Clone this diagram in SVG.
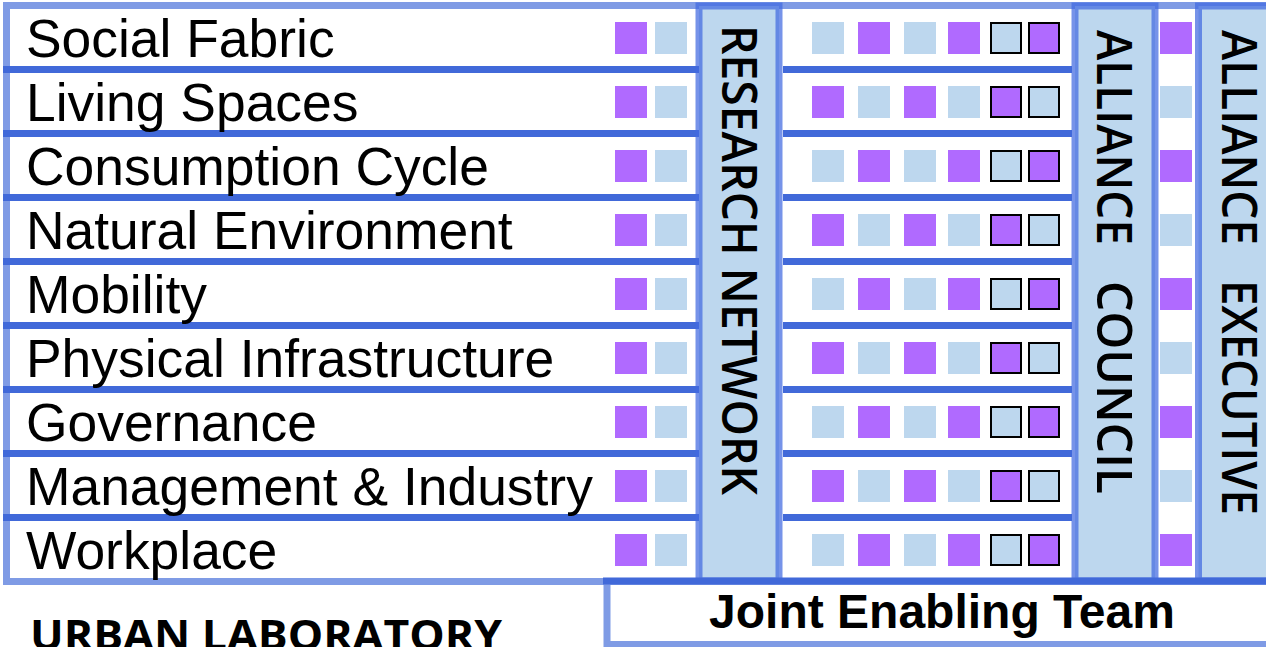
<svg xmlns="http://www.w3.org/2000/svg" width="1266" height="647" viewBox="0 0 1266 647">
<style>
.lbl{font-family:"Liberation Sans",Arial,sans-serif;font-size:53.4px;fill:#000}
.vt{font-family:"Open Sans","Liberation Sans",sans-serif;font-weight:600;font-size:49px;fill:#000}
.p{fill:#b06aff}
.l{fill:#bdd7ee}
.po{fill:#b06aff;stroke:#000;stroke-width:2}
.lo{fill:#bdd7ee;stroke:#000;stroke-width:2}
.sep{stroke:#4169d9;stroke-width:7}
.col{fill:#bdd7ee;stroke:#4169e1;stroke-opacity:0.72;stroke-width:7}
</style>
<defs>
<g id="rowL"><rect class="p" x="615" y="0" width="32" height="32"/><rect class="l" x="655" y="0" width="32" height="32"/></g>
<g id="midA"><rect class="l" x="812" y="0" width="32" height="32"/><rect class="p" x="858" y="0" width="32" height="32"/><rect class="l" x="904" y="0" width="32" height="32"/><rect class="p" x="948" y="0" width="32" height="32"/><rect class="lo" x="991" y="1" width="30" height="30"/><rect class="po" x="1029" y="1" width="30" height="30"/><rect class="p" x="1160" y="0" width="32" height="32"/></g>
<g id="midB"><rect class="p" x="812" y="0" width="32" height="32"/><rect class="l" x="858" y="0" width="32" height="32"/><rect class="p" x="904" y="0" width="32" height="32"/><rect class="l" x="948" y="0" width="32" height="32"/><rect class="po" x="991" y="1" width="30" height="30"/><rect class="lo" x="1029" y="1" width="30" height="30"/><rect class="l" x="1160" y="0" width="32" height="32"/></g>
</defs>
<g id="frame">
<rect x="6.5" y="5.5" width="1270" height="576" fill="#fff" stroke="#7f9be5" stroke-width="7"/>
</g>
<g id="connectors">
<line class="sep" x1="3" y1="69.5" x2="699" y2="69.5"/><line class="sep" x1="783" y1="69.5" x2="1072" y2="69.5"/>
<line class="sep" x1="3" y1="133.5" x2="699" y2="133.5"/><line class="sep" x1="783" y1="133.5" x2="1072" y2="133.5"/>
<line class="sep" x1="3" y1="197.5" x2="699" y2="197.5"/><line class="sep" x1="783" y1="197.5" x2="1072" y2="197.5"/>
<line class="sep" x1="3" y1="261.5" x2="699" y2="261.5"/><line class="sep" x1="783" y1="261.5" x2="1072" y2="261.5"/>
<line class="sep" x1="3" y1="325.5" x2="699" y2="325.5"/><line class="sep" x1="783" y1="325.5" x2="1072" y2="325.5"/>
<line class="sep" x1="3" y1="389.5" x2="699" y2="389.5"/><line class="sep" x1="783" y1="389.5" x2="1072" y2="389.5"/>
<line class="sep" x1="3" y1="453.5" x2="699" y2="453.5"/><line class="sep" x1="783" y1="453.5" x2="1072" y2="453.5"/>
<line class="sep" x1="3" y1="517.5" x2="699" y2="517.5"/><line class="sep" x1="783" y1="517.5" x2="1072" y2="517.5"/>
</g>
<g id="row-social-fabric"><text class="lbl" x="26" y="57">Social Fabric</text><use href="#rowL" y="22"/><use href="#midA" y="22"/></g>
<g id="row-living-spaces"><text class="lbl" x="26" y="121">Living Spaces</text><use href="#rowL" y="86"/><use href="#midB" y="86"/></g>
<g id="row-consumption-cycle"><text class="lbl" x="26" y="185">Consumption Cycle</text><use href="#rowL" y="150"/><use href="#midA" y="150"/></g>
<g id="row-natural-environment"><text class="lbl" x="26" y="249">Natural Environment</text><use href="#rowL" y="214"/><use href="#midB" y="214"/></g>
<g id="row-mobility"><text class="lbl" x="26" y="313">Mobility</text><use href="#rowL" y="278"/><use href="#midA" y="278"/></g>
<g id="row-physical-infrastructure"><text class="lbl" x="26" y="377">Physical Infrastructure</text><use href="#rowL" y="342"/><use href="#midB" y="342"/></g>
<g id="row-governance"><text class="lbl" x="26" y="441">Governance</text><use href="#rowL" y="406"/><use href="#midA" y="406"/></g>
<g id="row-management-industry"><text class="lbl" x="26" y="505">Management &amp; Industry</text><use href="#rowL" y="470"/><use href="#midB" y="470"/></g>
<g id="row-workplace"><text class="lbl" x="26" y="569">Workplace</text><use href="#rowL" y="534"/><use href="#midA" y="534"/></g>
<g id="research-network">
<rect class="col" x="699" y="6" width="80" height="575"/>
<text class="vt" transform="translate(722,25) rotate(90)" textLength="470" lengthAdjust="spacingAndGlyphs">RESEARCH NETWORK</text>
</g>
<g id="alliance-council">
<rect class="col" x="1075" y="6" width="80" height="575"/>
<text class="vt" transform="translate(1097,0) rotate(90)"><tspan x="30" textLength="215" lengthAdjust="spacingAndGlyphs">ALLIANCE</tspan><tspan x="281" textLength="213" lengthAdjust="spacingAndGlyphs">COUNCIL</tspan></text>
</g>
<g id="alliance-executive">
<rect class="col" x="1198.5" y="6" width="80" height="575"/>
<text class="vt" transform="translate(1222,0) rotate(90)"><tspan x="30" textLength="215" lengthAdjust="spacingAndGlyphs">ALLIANCE</tspan><tspan x="280" textLength="235" lengthAdjust="spacingAndGlyphs">EXECUTIVE</tspan></text>
</g>
<g id="joint-enabling-team">
<rect x="607" y="581.5" width="670" height="63" fill="#fff" stroke="#7f9be5" stroke-width="7"/>
<line x1="603" y1="581" x2="1266" y2="581" stroke="#4169d9" stroke-width="7"/>
<text x="942" y="628" text-anchor="middle" font-family="Liberation Sans,Arial,sans-serif" font-weight="bold" font-size="48">Joint Enabling Team</text>
</g>
<g id="urban-laboratory">
<text x="30" y="650" font-family="Open Sans,sans-serif" font-weight="700" font-size="42" textLength="472" lengthAdjust="spacingAndGlyphs">URBAN LABORATORY</text>
</g>
</svg>
